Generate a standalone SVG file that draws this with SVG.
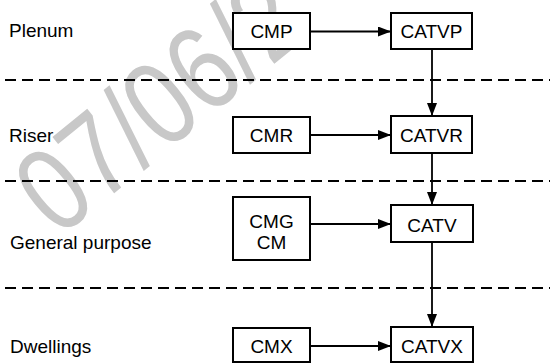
<svg xmlns="http://www.w3.org/2000/svg" width="550" height="363" viewBox="0 0 550 363">
<style>
text{font-family:"Liberation Sans",Arial,sans-serif;font-size:19px;fill:#000}
.box{fill:#fff;stroke:#000;stroke-width:2}
.bt{text-anchor:middle}
.dash{stroke:#000;stroke-width:2;stroke-dasharray:11 6;fill:none}
.conn{stroke:#000;stroke-width:1.8;fill:none;marker-end:url(#ah)}
#watermark text{font-size:120px;fill:#c8c8c8}
</style>
<defs>
<marker id="ah" markerWidth="13" markerHeight="10" refX="13" refY="5" orient="auto" markerUnits="userSpaceOnUse">
<path d="M0,0 L13,5 L0,10 Z" fill="#000"/>
</marker>
</defs>
<rect width="550" height="363" fill="#fff"/>
<g id="watermark">
<text transform="translate(57.9 238.8) rotate(-39) scale(0.82 1)">07/06/2</text>
</g>
<g id="dividers">
<line class="dash" x1="5" y1="80" x2="550" y2="80"/>
<line class="dash" x1="5" y1="181" x2="550" y2="181"/>
<line class="dash" x1="5" y1="288" x2="550" y2="288"/>
</g>
<g id="labels">
<text x="9" y="37">Plenum</text>
<text x="9" y="142">Riser</text>
<text x="10" y="249">General purpose</text>
<text x="10" y="353">Dwellings</text>
</g>
<g id="connectors">
<line class="conn" x1="310" y1="31.5" x2="391" y2="31.5"/>
<line class="conn" x1="310" y1="135" x2="391" y2="135"/>
<line class="conn" x1="310" y1="224" x2="391" y2="224"/>
<line class="conn" x1="310" y1="346" x2="391" y2="346"/>
<line class="conn" x1="432" y1="49" x2="432" y2="116"/>
<line class="conn" x1="432" y1="153" x2="432" y2="205"/>
<line class="conn" x1="432" y1="242" x2="432" y2="327"/>
</g>
<g id="CMP"><rect class="box" x="233" y="13" width="77" height="36"/><text class="bt" x="271.5" y="38">CMP</text></g>
<g id="CATVP"><rect class="box" x="391" y="13" width="81" height="36"/><text class="bt" x="431.5" y="38">CATVP</text></g>
<g id="CMR"><rect class="box" x="233" y="117" width="77" height="36"/><text class="bt" x="271.5" y="142">CMR</text></g>
<g id="CATVR"><rect class="box" x="391" y="116" width="81" height="37"/><text class="bt" x="431.5" y="142">CATVR</text></g>
<g id="CMG"><rect class="box" x="233" y="197" width="77" height="63"/><text class="bt" x="271.5" y="228">CMG</text><text class="bt" x="271.5" y="249">CM</text></g>
<g id="CATV"><rect class="box" x="391" y="205" width="82" height="37"/><text class="bt" x="432" y="232">CATV</text></g>
<g id="CMX"><rect class="box" x="233" y="328" width="77" height="34"/><text class="bt" x="271.5" y="353">CMX</text></g>
<g id="CATVX"><rect class="box" x="391" y="327" width="82" height="35"/><text class="bt" x="432" y="353">CATVX</text></g>
</svg>
